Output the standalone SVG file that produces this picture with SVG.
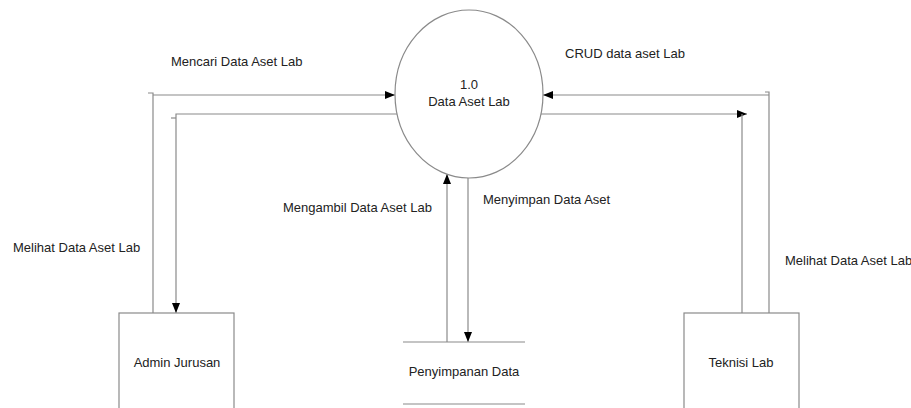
<svg xmlns="http://www.w3.org/2000/svg" width="911" height="408" viewBox="0 0 911 408">
<style>
.ln{stroke:#8a8a8a;stroke-width:1.2;fill:none}
.sh{stroke:#8a8a8a;stroke-width:1.2;fill:#fff}
.t{font-family:"Liberation Sans",Arial,sans-serif;font-size:13px;fill:#222}
.c{text-anchor:middle}
</style>
<defs>
<marker id="ah" viewBox="0 0 10 8" refX="10" refY="4" markerWidth="10" markerHeight="8" markerUnits="userSpaceOnUse" orient="auto">
<path d="M0,0 L10,4 L0,8 Z" fill="#000"/>
</marker>
</defs>
<rect width="911" height="408" fill="#fff"/>
<g id="connectors">
<path class="ln" d="M148,93 H153 V313"/>
<path class="ln" d="M153,95 H395" marker-end="url(#ah)"/>
<path class="ln" d="M397,114 H176 V313" marker-end="url(#ah)"/>
<path class="ln" d="M171,118 H176"/>
<path class="ln" d="M765,92 H769 V313"/>
<path class="ln" d="M769,95 H543" marker-end="url(#ah)"/>
<path class="ln" d="M541,114 H747" marker-end="url(#ah)"/>
<path class="ln" d="M742,114 V313"/>
<path class="ln" d="M447,342 V174" marker-end="url(#ah)"/>
<path class="ln" d="M468,178 V342" marker-end="url(#ah)"/>
</g>
<g id="labels">
<text class="t" x="171" y="66">Mencari Data Aset Lab</text>
<text class="t" x="565" y="58">CRUD data aset Lab</text>
<text class="t" x="283" y="212">Mengambil Data Aset Lab</text>
<text class="t" x="483" y="204">Menyimpan Data Aset</text>
<text class="t" x="13" y="252">Melihat Data Aset Lab</text>
<text class="t" x="785" y="265">Melihat Data Aset Lab</text>
</g>
<g id="process">
<ellipse class="sh" cx="469" cy="94" rx="74" ry="84"/>
<text class="t c" x="469" y="89">1.0</text>
<text class="t c" x="469" y="106">Data Aset Lab</text>
</g>
<g id="admin">
<rect class="sh" x="119" y="313" width="115" height="110"/>
<text class="t c" x="177" y="367">Admin Jurusan</text>
</g>
<g id="teknisi">
<rect class="sh" x="684" y="313" width="115" height="110"/>
<text class="t c" x="741" y="367">Teknisi Lab</text>
</g>
<g id="store">
<line class="ln" x1="403" y1="342" x2="525" y2="342"/>
<line class="ln" x1="403" y1="404" x2="525" y2="404"/>
<text class="t c" x="464" y="376">Penyimpanan Data</text>
</g>
</svg>
